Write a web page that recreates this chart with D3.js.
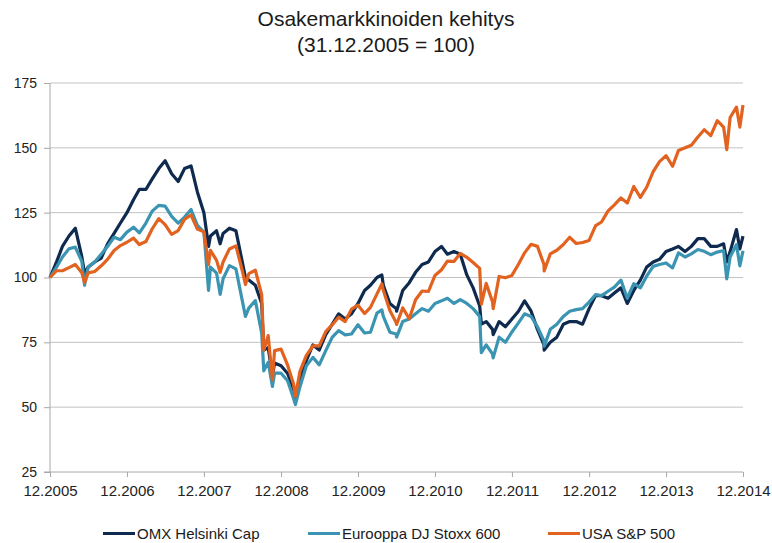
<!DOCTYPE html>
<html>
<head>
<meta charset="utf-8">
<script src="https://cdn.jsdelivr.net/npm/d3@7"></script>
<style>
  body { margin: 0; background: #fff; }
  svg { display: block; font-family: "Liberation Sans", Arial, sans-serif; }
  .axis path, .axis line { stroke: #a8a8a8; }
  .axis text { fill: #222; }
  .grid line { stroke: #c2c2c2; }
</style>
</head>
<body>
<svg id="chart"></svg>
<script>
// month ends ("YYYY-MM") plus a few intra-month extremes ("YYYY-MM-DD")
const dates = [
  "2005-12","2006-01","2006-02","2006-03","2006-04","2006-05","2006-06-13","2006-06","2006-07","2006-08","2006-09","2006-10","2006-11","2006-12",
  "2007-01","2007-02","2007-03","2007-04","2007-05","2007-06","2007-07","2007-08","2007-09","2007-10","2007-11","2007-12",
  "2008-01-22","2008-01","2008-02","2008-03-17","2008-03","2008-04","2008-05","2008-06","2008-07-15","2008-07","2008-08","2008-09","2008-10-10","2008-10","2008-11-20","2008-11","2008-12",
  "2009-01","2009-02","2009-03-09","2009-03","2009-04","2009-05","2009-06","2009-07","2009-08","2009-09","2009-10","2009-11","2009-12",
  "2010-01","2010-02","2010-03","2010-04-23","2010-04","2010-05","2010-06","2010-07-02","2010-07","2010-08","2010-09","2010-10","2010-11","2010-12",
  "2011-01","2011-02","2011-03","2011-04","2011-05","2011-06","2011-07","2011-08-08","2011-08","2011-09","2011-10-03","2011-10","2011-11","2011-12",
  "2012-01","2012-02","2012-03","2012-04","2012-05","2012-06-01","2012-06","2012-07","2012-08","2012-09","2012-10","2012-11","2012-12",
  "2013-01","2013-02","2013-03","2013-04","2013-05","2013-06","2013-07","2013-08","2013-09","2013-10","2013-11","2013-12",
  "2014-01","2014-02","2014-03","2014-04","2014-05","2014-06","2014-07","2014-08","2014-09","2014-10-15","2014-10","2014-11","2014-12-16","2014-12"
];

const omxHelsinki = [
  100,106,112,116,119,108,101.5,104,106,107.5,113,117,121,125,
  130,134,134,138,142,145,140,137,142,143,133,125,
  112,116,118,113,117,119,118,106,100,99,97,90,72,73,62,67,66,
  63,57,53,61,68,74,72,78,82,86,84,86,90,
  95,97,100,101,97,90,88,87,95,98,102,105,106,110,
  112,109,110,109,101,96,89,82,83,80,78,83,81,84,
  87,91,87,80,74,72,75,77,82,83,83,82,88,
  93,93,92,94,96,90,95,99,104,106,107,110,
  111,112,110,112,115,115,112,112,113,106,110,118.5,111,116
];

const stoxx600 = [
  100,104,107.9,111.1,111.7,106.2,97,104,106,109,112,115.5,114.6,117.5,
  119.4,117.2,121,125.6,127.8,127.5,123.6,121,123.3,126.2,120.1,117.5,
  95,104,101.7,93.5,99.5,104.6,103.3,91.1,85,88.2,91.1,78.6,64,67.3,58,63.1,63.1,
  60.2,53.4,51,58,66,69.2,66.3,71.8,77,79.5,77.9,78.2,81.8,
  78.6,78.9,86.3,87.5,85,78.9,78.2,77,83,84,86,88,87,90,
  91,92,90,91.5,90,88,85,71,74,70.5,69,77,75,79,
  82.5,86,85,81,75.5,73.5,80,82,85,87,87.6,88,90.5,
  93.4,93,94.7,96.3,99,92,97.6,96,100.5,104.3,105,105.6,
  103.7,109.5,107.9,109.1,110.8,110.1,108.8,109.8,110.4,99.5,107.9,112.7,104.5,110.3
];

const sp500 = [
  100,102.6,102.6,103.8,105,101.8,98,101.8,102.3,104.5,107,110.4,112.3,113.6,
  115.2,112.7,113.9,118.8,122.7,120.4,116.6,118.1,122.4,124.1,118.7,117.6,
  105,110.5,106.6,102,106,111,112.2,102.6,97.3,101.5,102.8,93.4,72,77.6,60.5,71.8,72.4,
  66.2,58.9,54.2,63.9,70,73.6,73.6,79.1,81.8,84.7,83,87.8,89.3,
  86.1,88.5,93.7,97.5,95.1,87.3,82.6,81.9,88.3,84.1,91.4,94.8,94.6,100.8,
  103,106.3,106.2,109.3,107.8,105.8,103.5,89.7,97.7,90.6,88,100.4,99.9,100.8,
  105.1,109.5,112.8,112,105,102.5,109.1,110.5,112.7,115.5,113.1,113.5,114.3,
  120,121.4,125.7,128,130.7,128.7,135.1,130.9,134.8,140.8,144.7,147,
  142.9,149,150,151,154.2,157,154.7,160.5,158,149.3,161.7,165.7,158,166.5
];

const seriesNames = ["OMX Helsinki Cap", "Eurooppa DJ Stoxx 600", "USA S&P 500"];
const seriesColors = ["#0e2a4e", "#3a94b2", "#e2621f"];
const yTicks = [25, 50, 75, 100, 125, 150, 175];
const xTickLabels = ["12.2005","12.2006","12.2007","12.2008","12.2009","12.2010","12.2011","12.2012","12.2013","12.2014"];

// "YYYY-MM" means the last day of that month
function parseDate(s) {
  if (s.length === 10) return d3.timeParse("%Y-%m-%d")(s);
  let first = s.indexOf(".") > 0 ? d3.timeParse("%m.%Y")(s) : d3.timeParse("%Y-%m")(s);
  return d3.timeDay.offset(d3.timeMonth.offset(first, 1), -1);
}

class indexChart {
  constructor(_config, _data) {
    this.config = {
      parentElement: _config.parentElement,
      containerWidth: _config.containerWidth || 772,
      containerHeight: _config.containerHeight || 543,
      margin: _config.margin || {top: 83, right: 29, bottom: 71, left: 50}
    };
    this.data = _data;
    this.initVis();
  }

  initVis() {
    let vis = this;

    vis.width = vis.config.containerWidth - vis.config.margin.left - vis.config.margin.right;
    vis.height = vis.config.containerHeight - vis.config.margin.top - vis.config.margin.bottom;

    vis.tickDates = xTickLabels.map(parseDate);

    vis.xScale = d3.scaleTime()
        .domain([vis.tickDates[0], vis.tickDates[vis.tickDates.length - 1]])
        .range([0, vis.width]);

    vis.yScale = d3.scaleLinear()
        .domain([25, 175])
        .range([vis.height, 0]);

    vis.xAxis = d3.axisBottom(vis.xScale)
        .tickValues(vis.tickDates)
        .tickSize(5)
        .tickPadding(8)
        .tickFormat((d, i) => xTickLabels[i]);

    vis.yAxis = d3.axisLeft(vis.yScale)
        .tickValues(yTicks)
        .tickSize(6)
        .tickPadding(7);

    vis.svg = d3.select(vis.config.parentElement)
        .attr('width', vis.config.containerWidth)
        .attr('height', vis.config.containerHeight);

    vis.chart = vis.svg.append('g')
        .attr('transform', `translate(${vis.config.margin.left},${vis.config.margin.top})`);

    // horizontal gridlines (25 is the x axis itself)
    vis.chart.append('g')
        .attr('class', 'grid')
        .selectAll('line')
        .data(yTicks.filter(d => d > 25))
      .join('line')
        .attr('x1', 0)
        .attr('x2', vis.width)
        .attr('y1', d => vis.yScale(d))
        .attr('y2', d => vis.yScale(d));

    vis.xAxisG = vis.chart.append('g')
        .attr('class', 'axis x-axis')
        .attr('transform', `translate(0,${vis.height})`);

    vis.yAxisG = vis.chart.append('g')
        .attr('class', 'axis y-axis');

    // Title
    vis.svg.append('text')
        .attr('x', vis.config.containerWidth / 2)
        .attr('y', 26)
        .attr('text-anchor', 'middle')
        .style('font-size', '21px')
        .style('fill', '#1a1a1a')
        .text('Osakemarkkinoiden kehitys');

    vis.svg.append('text')
        .attr('x', vis.config.containerWidth / 2)
        .attr('y', 52)
        .attr('text-anchor', 'middle')
        .style('font-size', '21px')
        .style('fill', '#1a1a1a')
        .text('(31.12.2005 = 100)');

    // Legend
    const legendX = [103, 308, 548];
    vis.legend = vis.svg.append('g').attr('class', 'legend');
    seriesNames.forEach((name, i) => {
      vis.legend.append('line')
          .attr('x1', legendX[i])
          .attr('x2', legendX[i] + 32)
          .attr('y1', 533.5)
          .attr('y2', 533.5)
          .attr('stroke', seriesColors[i])
          .attr('stroke-width', 3);
      vis.legend.append('text')
          .attr('x', legendX[i] + 34)
          .attr('y', 538.5)
          .style('font-size', '15px')
          .style('fill', '#1a1a1a')
          .text(name);
    });

    vis.updateVis();
  }

  updateVis() {
    let vis = this;

    vis.line = d3.line()
        .x(d => vis.xScale(d.date))
        .y(d => vis.yScale(d.value));

    vis.renderVis();
  }

  renderVis() {
    let vis = this;

    vis.xAxisG.call(vis.xAxis);
    vis.yAxisG.call(vis.yAxis);

    vis.xAxisG.selectAll('text').style('font-size', '15px');
    vis.yAxisG.selectAll('text').style('font-size', '14px');
    vis.yAxisG.select('.domain').attr('d', `M-6,${vis.height}H0V0`);
    vis.xAxisG.select('.domain').attr('d', `M0,0H${vis.width}`);

    vis.chart.selectAll('.chart-line')
        .data(vis.data)
      .join('path')
        .attr('class', 'chart-line')
        .attr('fill', 'none')
        .attr('stroke', d => d.color)
        .attr('stroke-width', 3.2)
        .attr('stroke-linejoin', 'round')
        .attr('d', d => vis.line(d.values));
  }
}

const parsedDates = dates.map(parseDate);
const data = [omxHelsinki, stoxx600, sp500].map((vals, i) => ({
  name: seriesNames[i],
  color: seriesColors[i],
  values: vals.map((v, j) => ({date: parsedDates[j], value: v}))
}));

new indexChart({parentElement: '#chart'}, data);
</script>
</body>
</html>
